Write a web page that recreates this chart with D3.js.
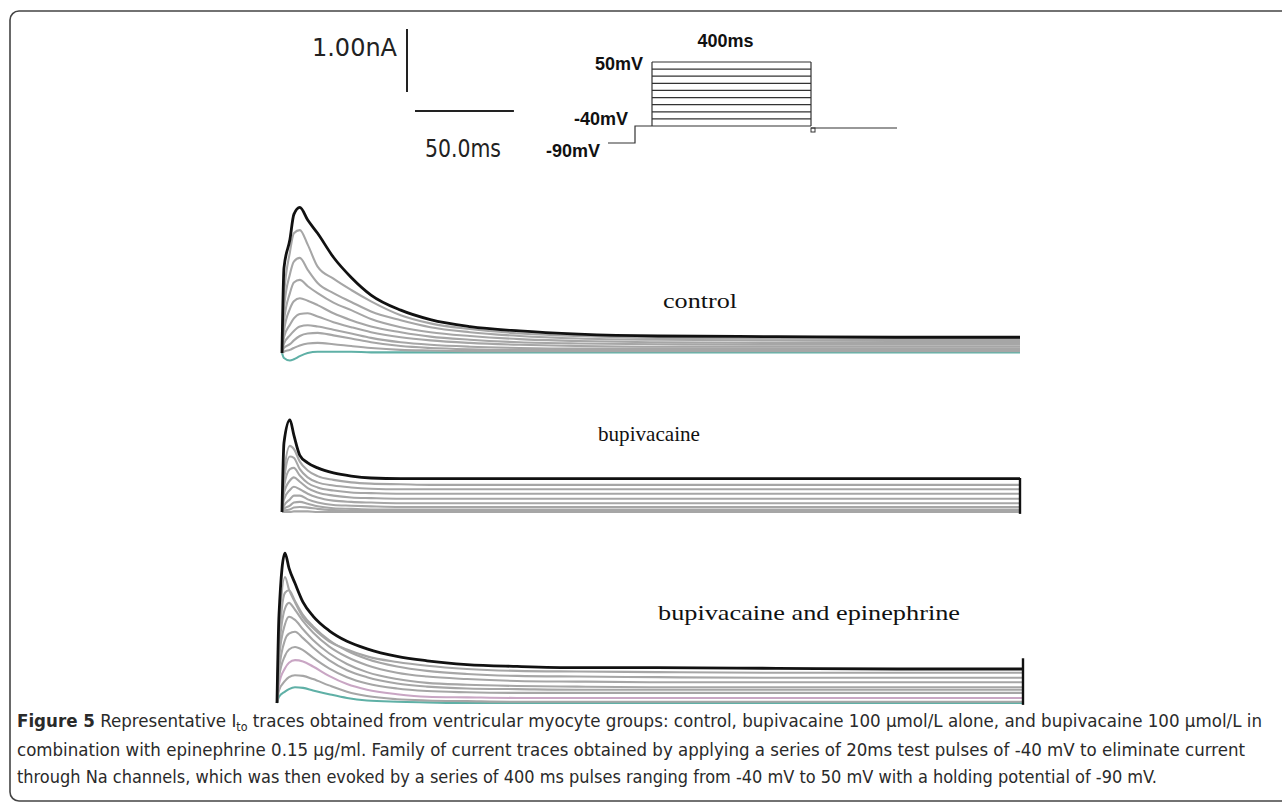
<!DOCTYPE html>
<html>
<head>
<meta charset="utf-8">
<script src="https://cdn.jsdelivr.net/npm/d3@7"></script>
<style>
  body { margin: 0; background: #fff; }
  svg { display: block; }
</style>
</head>
<body>
<svg id="chart" width="1282" height="806"></svg>
<script>
// === DATA ===
// sample times of every trace (ms after the start of the 400 ms step)
const timesMs = [0, 1, 4, 6, 9, 13, 18, 26, 35, 45, 60, 75, 95, 120, 150, 190, 250, 310, 373];
// step potentials, one trace per step (mV)
const stepMv = [50, 40, 30, 20, 10, 0, -10, -20, -30, -40];

// current in nA, one row per step potential
const controlNa = [
    [0, 1.35, 1.80, 2.20, 2.31, 2.11, 1.90, 1.52, 1.20, 0.92, 0.68, 0.53, 0.42, 0.35, 0.30, 0.27, 0.26, 0.25, 0.25],
    [0, 0.90, 1.60, 1.90, 1.95, 1.72, 1.37, 1.18, 1.00, 0.82, 0.60, 0.47, 0.38, 0.31, 0.27, 0.24, 0.23, 0.22, 0.22],
    [0, 0.70, 1.25, 1.45, 1.51, 1.32, 1.11, 0.95, 0.81, 0.66, 0.52, 0.41, 0.33, 0.27, 0.23, 0.21, 0.20, 0.19, 0.19],
    [0, 0.50, 0.95, 1.12, 1.16, 1.06, 0.95, 0.80, 0.68, 0.54, 0.41, 0.33, 0.27, 0.22, 0.19, 0.17, 0.16, 0.16, 0.16],
    [0, 0.35, 0.70, 0.82, 0.87, 0.83, 0.76, 0.63, 0.52, 0.42, 0.33, 0.26, 0.21, 0.17, 0.15, 0.14, 0.13, 0.13, 0.13],
    [0, 0.25, 0.45, 0.55, 0.62, 0.63, 0.58, 0.49, 0.41, 0.33, 0.25, 0.20, 0.16, 0.13, 0.11, 0.10, 0.10, 0.10, 0.10],
    [0, 0.15, 0.28, 0.35, 0.42, 0.44, 0.42, 0.37, 0.31, 0.24, 0.17, 0.13, 0.10, 0.08, 0.07, 0.07, 0.07, 0.07, 0.07],
    [0, 0.08, 0.14, 0.20, 0.27, 0.31, 0.32, 0.28, 0.23, 0.17, 0.11, 0.08, 0.06, 0.05, 0.05, 0.05, 0.05, 0.05, 0.05],
    [0, 0.02, 0.05, 0.08, 0.12, 0.15, 0.16, 0.14, 0.11, 0.08, 0.05, 0.04, 0.03, 0.03, 0.03, 0.03, 0.03, 0.03, 0.03],
    [0, -0.08, -0.12, -0.10, -0.05, 0.00, 0.02, 0.02, 0.02, 0.01, 0.01, 0.01, 0.01, 0.01, 0.01, 0.01, 0.01, 0.01, 0.01]
];

const bupivacaineNa = [
    [0, 1.10, 1.46, 1.22, 0.90, 0.78, 0.70, 0.62, 0.57, 0.54, 0.53, 0.53, 0.53, 0.53, 0.53, 0.53, 0.53, 0.53, 0.53],
    [0, 0.60, 1.05, 1.00, 0.80, 0.66, 0.57, 0.51, 0.47, 0.45, 0.44, 0.43, 0.43, 0.43, 0.43, 0.43, 0.43, 0.43, 0.43],
    [0, 0.50, 0.88, 0.86, 0.68, 0.55, 0.47, 0.42, 0.39, 0.37, 0.36, 0.36, 0.36, 0.36, 0.36, 0.36, 0.36, 0.36, 0.36],
    [0, 0.40, 0.68, 0.70, 0.58, 0.46, 0.39, 0.34, 0.31, 0.30, 0.29, 0.29, 0.29, 0.29, 0.29, 0.29, 0.29, 0.29, 0.29],
    [0, 0.30, 0.50, 0.55, 0.48, 0.38, 0.31, 0.26, 0.23, 0.22, 0.21, 0.21, 0.21, 0.21, 0.21, 0.21, 0.21, 0.21, 0.21],
    [0, 0.20, 0.35, 0.40, 0.36, 0.29, 0.23, 0.18, 0.16, 0.15, 0.14, 0.14, 0.14, 0.14, 0.14, 0.14, 0.14, 0.14, 0.14],
    [0, 0.10, 0.20, 0.26, 0.26, 0.20, 0.15, 0.11, 0.10, 0.09, 0.08, 0.08, 0.08, 0.08, 0.08, 0.08, 0.08, 0.08, 0.08],
    [0, 0.05, 0.10, 0.15, 0.16, 0.13, 0.09, 0.06, 0.05, 0.04, 0.04, 0.04, 0.04, 0.04, 0.04, 0.04, 0.04, 0.04, 0.04],
    [0, 0.02, 0.04, 0.07, 0.08, 0.07, 0.05, 0.03, 0.02, 0.02, 0.02, 0.02, 0.02, 0.02, 0.02, 0.02, 0.02, 0.02, 0.02],
    [0, 0.00, 0.00, 0.01, 0.01, 0.01, 0.00, 0.00, 0.00, 0.00, 0.00, 0.00, 0.00, 0.00, 0.00, 0.00, 0.00, 0.00, 0.00]
];

const epinephrineNa = [
    [0, 1.40, 2.38, 2.14, 1.90, 1.60, 1.38, 1.15, 0.98, 0.86, 0.74, 0.67, 0.61, 0.58, 0.56, 0.56, 0.55, 0.54, 0.54],
    [0, 1.00, 2.00, 1.80, 1.60, 1.36, 1.19, 0.98, 0.85, 0.74, 0.65, 0.59, 0.54, 0.51, 0.50, 0.49, 0.48, 0.48, 0.48],
    [0, 0.90, 1.75, 1.79, 1.62, 1.40, 1.22, 1.00, 0.83, 0.70, 0.58, 0.51, 0.46, 0.43, 0.42, 0.41, 0.40, 0.40, 0.40],
    [0, 0.80, 1.50, 1.59, 1.48, 1.30, 1.12, 0.90, 0.73, 0.60, 0.48, 0.42, 0.38, 0.35, 0.34, 0.33, 0.33, 0.33, 0.33],
    [0, 0.70, 1.25, 1.37, 1.32, 1.17, 1.00, 0.79, 0.62, 0.49, 0.38, 0.32, 0.29, 0.27, 0.26, 0.25, 0.25, 0.25, 0.25],
    [0, 0.50, 1.00, 1.10, 1.13, 1.03, 0.88, 0.68, 0.52, 0.41, 0.31, 0.26, 0.23, 0.22, 0.21, 0.21, 0.21, 0.21, 0.21],
    [0, 0.40, 0.75, 0.85, 0.89, 0.84, 0.72, 0.55, 0.41, 0.31, 0.23, 0.19, 0.17, 0.16, 0.16, 0.16, 0.16, 0.16, 0.16],
    [0, 0.30, 0.55, 0.64, 0.68, 0.66, 0.58, 0.43, 0.30, 0.21, 0.14, 0.10, 0.09, 0.08, 0.08, 0.08, 0.08, 0.08, 0.08],
    [0, 0.20, 0.35, 0.41, 0.44, 0.43, 0.38, 0.28, 0.18, 0.11, 0.06, 0.04, 0.03, 0.02, 0.02, 0.02, 0.02, 0.02, 0.02],
    [0, 0.10, 0.18, 0.22, 0.25, 0.24, 0.20, 0.14, 0.08, 0.04, 0.02, 0.01, 0.00, 0.00, 0.00, 0.00, 0.00, 0.00, 0.00]
];

const panelNames = ["control", "bupivacaine", "bupivacaine and epinephrine"];
// end-of-step transient at the right edge (nA), null = none
const tailSpikeNa = [null, 0.54, 0.71];

// voltage protocol
const protocolMs = [-40, -20, 0, 400, 540];   // holding, prepulse, step start, step end, end
const holdingMv = -90;
const prepulseMv = -40;
const protocolLabels = ["50mV", "-40mV", "-90mV"];
const scaleBarNa = 1.00;
const scaleBarMs = 50.0;

// caption
const captionLines = [
    [{ t: "Figure 5", b: true }, { t: " Representative I" }, { t: "to", sub: true },
     { t: " traces obtained from ventricular myocyte groups: control, bupivacaine 100 \u00b5mol/L alone, and bupivacaine 100 \u00b5mol/L in" }],
    [{ t: "combination with epinephrine 0.15 \u00b5g/ml. Family of current traces obtained by applying a series of 20ms test pulses of -40 mV to eliminate current" }],
    [{ t: "through Na channels, which was then evoked by a series of 400 ms pulses ranging from -40 mV to 50 mV with a holding potential of -90 mV." }]
];

// === LAYOUT ===
const svg = d3.select("#chart");
const pxPerNa = 63;

// frame
svg.append("rect")
    .attr("x", 10).attr("y", 11)
    .attr("width", 1300).attr("height", 790)
    .attr("rx", 9)
    .attr("fill", "none")
    .attr("stroke", "#444")
    .attr("stroke-width", 1.6);

// panels: x range + baseline
const panels = [
    { x0: 282, x1: 1020, base: 353, label: { x: 663, y: 308, w: 74 } },
    { x0: 282, x1: 1020, base: 512, label: { x: 598, y: 441, w: 102 } },
    { x0: 277, x1: 1023, base: 703, label: { x: 658, y: 620, w: 302 } }
];
const panelData = [controlNa, bupivacaineNa, epinephrineNa];

function traceColor(p, mv) {
    if (mv === 50) return "#111";
    if (mv === -40 && p !== 1) return "#5fb0a6";
    if (mv === -20 && p === 2) return "#c9a6c4";
    return "#a6a6a6";
}

panels.forEach((pn, p) => {
    const x = d3.scaleLinear().domain([0, d3.max(timesMs)]).range([pn.x0, pn.x1]);
    const y = d3.scaleLinear().domain([0, 1]).range([pn.base, pn.base - pxPerNa]);
    const line = d3.line()
        .x((d, i) => x(timesMs[i]))
        .y(d => y(d))
        .curve(d3.curveMonotoneX);

    const g = svg.append("g").attr("class", "panel");
    // draw from lowest step upward, the 50 mV trace last
    const order = d3.range(stepMv.length).reverse();
    g.selectAll("path.trace")
        .data(order)
        .enter().append("path")
        .attr("class", "trace")
        .attr("d", i => line(panelData[p][i]))
        .attr("fill", "none")
        .attr("stroke", i => traceColor(p, stepMv[i]))
        .attr("stroke-width", i => stepMv[i] === 50 ? 2.8 : 2.1);

    if (tailSpikeNa[p] !== null) {
        g.append("line")
            .attr("x1", x(d3.max(timesMs))).attr("x2", x(d3.max(timesMs)))
            .attr("y1", y(-0.03)).attr("y2", y(tailSpikeNa[p]))
            .attr("stroke", "#111").attr("stroke-width", 2.4);
    }

    g.append("text")
        .attr("x", pn.label.x).attr("y", pn.label.y)
        .attr("font-family", "'Liberation Serif', 'Times New Roman', serif")
        .attr("font-size", 22)
        .attr("textLength", pn.label.w)
        .attr("lengthAdjust", "spacingAndGlyphs")
        .attr("fill", "#111")
        .text(panelNames[p]);
});

// === SCALE BARS ===
const msScale = d3.scaleLinear().domain([0, d3.max(timesMs)]).range([0, panels[0].x1 - panels[0].x0]);
const barX = 407, barTop = 29;
svg.append("line")
    .attr("x1", barX).attr("x2", barX)
    .attr("y1", barTop).attr("y2", barTop + scaleBarNa * pxPerNa)
    .attr("stroke", "#222").attr("stroke-width", 2);
svg.append("line")
    .attr("x1", 415).attr("x2", 415 + msScale(scaleBarMs))
    .attr("y1", 111).attr("y2", 111)
    .attr("stroke", "#222").attr("stroke-width", 2);

const barFont = "'DejaVu Sans Condensed', 'Liberation Sans Narrow', sans-serif";
svg.append("text")
    .attr("x", 312).attr("y", 56)
    .attr("font-family", barFont).attr("font-size", 24)
    .attr("textLength", 85).attr("lengthAdjust", "spacingAndGlyphs")
    .attr("fill", "#222")
    .text(scaleBarNa.toFixed(2) + "nA");
svg.append("text")
    .attr("x", 425).attr("y", 157)
    .attr("font-family", barFont).attr("font-size", 24)
    .attr("textLength", 76).attr("lengthAdjust", "spacingAndGlyphs")
    .attr("fill", "#222")
    .text(scaleBarMs.toFixed(1) + "ms");

// === VOLTAGE PROTOCOL ===
const xp = d3.scaleLinear().domain(protocolMs).range([608, 635, 652, 811, 897]);
const yp = d3.scaleLinear().domain([-90, -40, 50]).range([143, 126, 62]);
const pg = svg.append("g").attr("stroke", "#333").attr("stroke-width", 1.2).attr("fill", "none");

const holdPath = [
    [protocolMs[0], holdingMv], [protocolMs[1], holdingMv],
    [protocolMs[1], prepulseMv], [protocolMs[2], prepulseMv]
];
pg.append("path").attr("d", d3.line().x(d => xp(d[0])).y(d => yp(d[1]))(holdPath));

const levels = stepMv.slice().reverse();
pg.selectAll("line.level")
    .data(levels)
    .enter().append("line")
    .attr("class", "level")
    .attr("x1", xp(protocolMs[2])).attr("x2", xp(protocolMs[3]))
    .attr("y1", d => yp(d)).attr("y2", d => yp(d));
[protocolMs[2], protocolMs[3]].forEach(t => {
    pg.append("line")
        .attr("x1", xp(t)).attr("x2", xp(t))
        .attr("y1", yp(d3.max(levels))).attr("y2", yp(d3.min(levels)));
});
pg.append("line")
    .attr("x1", xp(protocolMs[3])).attr("x2", xp(protocolMs[4]))
    .attr("y1", yp(prepulseMv) + 2).attr("y2", yp(prepulseMv) + 2);
pg.append("rect")
    .attr("x", xp(protocolMs[3])).attr("y", yp(prepulseMv) + 2)
    .attr("width", 4).attr("height", 4)
    .attr("stroke-width", 1);

const protFont = "'Liberation Sans', Arial, sans-serif";
svg.append("text")
    .attr("x", (xp(protocolMs[2]) + xp(protocolMs[3])) / 2 - 6).attr("y", 47)
    .attr("text-anchor", "middle")
    .attr("font-family", protFont).attr("font-weight", "bold").attr("font-size", 18)
    .attr("fill", "#111")
    .text((protocolMs[3] - protocolMs[2]) + "ms");
const labelPos = [[643, 70], [628, 125], [600, 157]];
svg.selectAll("text.mv")
    .data(protocolLabels)
    .enter().append("text")
    .attr("class", "mv")
    .attr("x", (d, i) => labelPos[i][0]).attr("y", (d, i) => labelPos[i][1])
    .attr("text-anchor", "end")
    .attr("font-family", protFont).attr("font-weight", "bold").attr("font-size", 18)
    .attr("fill", "#111")
    .text(d => d);

// === CAPTION ===
const capWidths = [1245, 1228, 1140];
const capY = [727, 756, 783];
captionLines.forEach((parts, li) => {
    const t = svg.append("text")
        .attr("x", 17).attr("y", capY[li])
        .attr("font-family", "'DejaVu Sans Condensed', 'Liberation Sans Narrow', sans-serif")
        .attr("font-size", 18)
        .attr("fill", "#2a2a2a")
        .attr("textLength", capWidths[li])
        .attr("lengthAdjust", "spacingAndGlyphs");
    let shifted = false;
    parts.forEach(pt => {
        const s = t.append("tspan").text(pt.t);
        if (pt.b) s.attr("font-weight", "bold");
        if (pt.sub) { s.attr("dy", 4).attr("font-size", 12); shifted = true; }
        else if (shifted) { s.attr("dy", -4); shifted = false; }
    });
});
</script>
</body>
</html>
